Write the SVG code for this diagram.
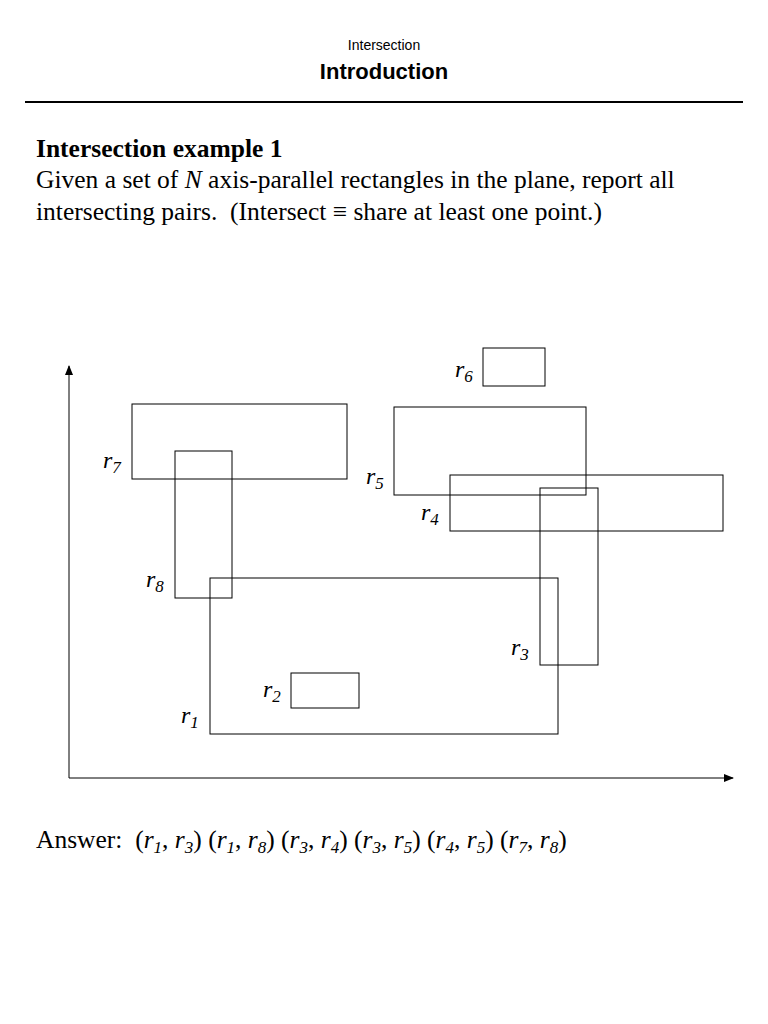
<svg xmlns="http://www.w3.org/2000/svg" width="768" height="1024" viewBox="0 0 768 1024">
<style>
.r{fill:none;stroke:#000;stroke-width:1}
.s{font-family:"Liberation Serif",serif;font-size:25.5px}
.l{font-family:"Liberation Serif",serif;font-size:24px;font-style:italic}
.sub{font-size:17px}
</style>
<defs><marker id="a" markerWidth="10" markerHeight="8" refX="9" refY="4" orient="auto" markerUnits="userSpaceOnUse"><path d="M0,0L10,4L0,8z"/></marker></defs>
<rect width="768" height="1024" fill="#fff"/>
<text x="384" y="50" text-anchor="middle" font-family="Liberation Sans,sans-serif" font-size="14">Intersection</text>
<text x="384" y="79" text-anchor="middle" font-family="Liberation Sans,sans-serif" font-size="22" font-weight="bold">Introduction</text>
<line x1="25" y1="102" x2="743" y2="102" stroke="#000" stroke-width="2"/>
<text x="36" y="157" class="s" font-weight="bold">Intersection example 1</text>
<text x="36" y="188" class="s">Given a set of <tspan font-style="italic">N</tspan> axis-parallel rectangles in the plane, report all</text>
<text x="36" y="220" class="s">intersecting pairs.&#160; (Intersect ≡ share at least one point.)</text>
<g id="connectors">
<line x1="69" y1="778" x2="69" y2="366" stroke="#000" marker-end="url(#a)"/>
<line x1="69" y1="778" x2="733" y2="778" stroke="#000" marker-end="url(#a)"/>
</g>
<g id="r6"><rect class="r" x="483" y="348" width="62" height="38"/><text class="l" x="455" y="377">r<tspan class="sub" dy="5">6</tspan></text></g>
<g id="r7"><rect class="r" x="132" y="404" width="215" height="75"/><text class="l" x="103" y="468">r<tspan class="sub" dy="5">7</tspan></text></g>
<g id="r8"><rect class="r" x="175" y="451" width="57" height="147" stroke-width="2"/><text class="l" x="146" y="587">r<tspan class="sub" dy="5">8</tspan></text></g>
<g id="r5"><rect class="r" x="394" y="407" width="192" height="88"/><text class="l" x="366" y="484">r<tspan class="sub" dy="5">5</tspan></text></g>
<g id="r4"><rect class="r" x="450" y="475" width="273" height="56"/><text class="l" x="421" y="520">r<tspan class="sub" dy="5">4</tspan></text></g>
<g id="r3"><rect class="r" x="540" y="488" width="58" height="177"/><text class="l" x="511" y="655">r<tspan class="sub" dy="5">3</tspan></text></g>
<g id="r1"><rect class="r" x="210" y="578" width="348" height="156"/><text class="l" x="181" y="723">r<tspan class="sub" dy="5">1</tspan></text></g>
<g id="r2"><rect class="r" x="291" y="673" width="68" height="35" stroke-width="1.5"/><text class="l" x="263" y="697">r<tspan class="sub" dy="5">2</tspan></text></g>
<text x="36" y="848" class="s">Answer:&#160; (<tspan font-style="italic">r</tspan><tspan class="sub" font-style="italic" dy="5">1</tspan><tspan dy="-5">, </tspan><tspan font-style="italic">r</tspan><tspan class="sub" font-style="italic" dy="5">3</tspan><tspan dy="-5">) (</tspan><tspan font-style="italic">r</tspan><tspan class="sub" font-style="italic" dy="5">1</tspan><tspan dy="-5">, </tspan><tspan font-style="italic">r</tspan><tspan class="sub" font-style="italic" dy="5">8</tspan><tspan dy="-5">) (</tspan><tspan font-style="italic">r</tspan><tspan class="sub" font-style="italic" dy="5">3</tspan><tspan dy="-5">, </tspan><tspan font-style="italic">r</tspan><tspan class="sub" font-style="italic" dy="5">4</tspan><tspan dy="-5">) (</tspan><tspan font-style="italic">r</tspan><tspan class="sub" font-style="italic" dy="5">3</tspan><tspan dy="-5">, </tspan><tspan font-style="italic">r</tspan><tspan class="sub" font-style="italic" dy="5">5</tspan><tspan dy="-5">) (</tspan><tspan font-style="italic">r</tspan><tspan class="sub" font-style="italic" dy="5">4</tspan><tspan dy="-5">, </tspan><tspan font-style="italic">r</tspan><tspan class="sub" font-style="italic" dy="5">5</tspan><tspan dy="-5">) (</tspan><tspan font-style="italic">r</tspan><tspan class="sub" font-style="italic" dy="5">7</tspan><tspan dy="-5">, </tspan><tspan font-style="italic">r</tspan><tspan class="sub" font-style="italic" dy="5">8</tspan><tspan dy="-5">)</tspan></text>
</svg>
